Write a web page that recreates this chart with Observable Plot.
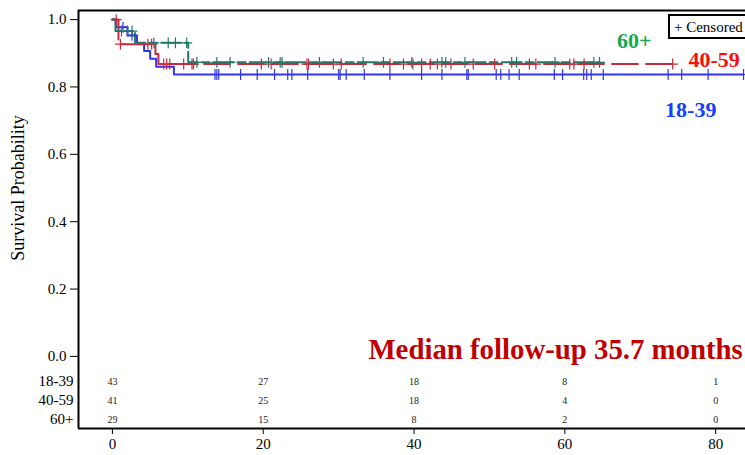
<!DOCTYPE html>
<html><head><meta charset="utf-8">
<script src="https://cdn.jsdelivr.net/npm/d3@7"></script>
<script src="https://cdn.jsdelivr.net/npm/@observablehq/plot@0.6"></script>
<style>
html,body{margin:0;padding:0;background:#fff;}
#chart{position:relative;width:745px;height:455px;overflow:hidden;}
</style></head><body><div id="chart"></div>
<script>
// ---- data ----
const groups = ["18-39", "40-59", "60+"];

// Kaplan–Meier step points (months, survival)
const times18 = [0, 0.5, 2.0, 3.25, 4.2, 5.0, 5.8, 8.15];
const surv18  = [1, 0.977, 0.953, 0.930, 0.907, 0.884, 0.860, 0.837];
const censor18 = [1.4, 2.6, 13.6, 13.85, 14.1, 17.0, 19.2, 21.5, 23.25, 23.8, 25.9, 30.0, 30.2, 31.0,
  33.4, 36.8, 41.0, 43.7, 47.0, 47.2, 50.9, 51.5, 52.6, 53.95, 58.6, 59.7, 62.5, 62.9, 63.5, 65.1,
  73.7, 75.5, 79.0, 83.7];

const times40 = [0, 0.8, 5.7, 6.1];
const surv40  = [1, 0.927, 0.898, 0.868];
const censor40 = [0.5, 1.06, 4.7, 5.2, 6.8, 7.2, 7.6, 9.45, 10.55, 10.75, 19.75, 21.05, 25.8, 26.0,
  29.3, 30.35, 36.8, 38.6, 39.85, 41.0, 42.15, 43.1, 44.9, 47.85, 50.7, 55.3, 56.15, 60.65, 61.2,
  62.55, 74.3];

const times60 = [0, 0.4, 3.0, 10.05];
const surv60  = [1, 0.966, 0.931, 0.873];
const censor60 = [1.2, 2.0, 2.6, 5.5, 7.4, 8.35, 9.85, 11.2, 13.85, 15.6, 20.7, 22.25, 22.5, 27.45,
  33.25, 35.95, 39.7, 43.7, 44.2, 46.75, 52.95, 53.6, 58.7, 63.85, 64.6];

// number at risk
const riskTimes = [0, 20, 40, 60, 80];
const risk18 = [43, 27, 18, 8, 1];
const risk40 = [41, 25, 18, 4, 0];
const risk60 = [29, 15, 8, 2, 0];

const xTicks = [0, 20, 40, 60, 80];
const yTicks = [0, 0.2, 0.4, 0.6, 0.8, 1.0];

// ---- layout / style ----
const xDomain = [-4.5, 83.96];
const yDomain = [-0.214, 1.027];
const FONT = "'Liberation Serif', 'Times New Roman', serif";

const series = [
  {group: groups[0], times: times18, surv: surv18, censor: censor18, risk: risk18, color: "#3535e8", dash: null, row: -0.074},
  {group: groups[1], times: times40, surv: surv40, censor: censor40, risk: risk40, color: "#c92a3e", dash: "26,8", row: -0.131},
  {group: groups[2], times: times60, surv: surv60, censor: censor60, risk: risk60, color: "#24786a", dash: "20,4,8,4", row: -0.187}
];

function stepAt(s, t) {
  let v = s.surv[0];
  for (let i = 0; i < s.times.length; i++) if (s.times[i] <= t) v = s.surv[i];
  return v;
}
function linePts(s) {
  const pts = s.times.map((t, i) => ({t, s: s.surv[i]}));
  const end = Math.max(d3.max(s.censor), s.times[s.times.length - 1]);
  pts.push({t: end, s: s.surv[s.surv.length - 1]});
  return pts;
}
function censorPts(s) { return s.censor.map(t => ({t, s: stepAt(s, t)})); }

const marks = [
  Plot.ruleX([xDomain[0]], {stroke: "#000", strokeWidth: 2}),
  Plot.ruleY([yDomain[0], yDomain[1]], {stroke: "#000", strokeWidth: 2}),
  ...series.map(s => Plot.line(linePts(s), {x: "t", y: "s", curve: "step-after", stroke: s.color, strokeWidth: 2, strokeDasharray: s.dash})),
  ...series.map(s => Plot.dot(censorPts(s), {x: "t", y: "s", symbol: "plus", r: 3.6, stroke: s.color, strokeWidth: 1.2})),
  // risk table
  ...series.map(s => Plot.text(riskTimes.map((t, i) => ({t, n: s.risk[i]})), {x: "t", y: () => s.row, text: d => String(d.n), fontSize: 10, fill: "#222"})),
  Plot.text(series, {x: () => xDomain[0], y: "row", text: "group", textAnchor: "end", dx: -5, fontSize: 15, fill: "#000"}),
  // y label
  Plot.text(["Survival Probability"], {x: () => xDomain[0], y: () => 0.5, rotate: -90, dx: -60, fontSize: 18, fill: "#000"}),
  // group labels
  Plot.text([groups[2]], {x: () => 69.2, y: () => 0.938, fontSize: 22, fontWeight: "bold", fill: "#17a84e"}),
  Plot.text([groups[1]], {x: () => 76.4, y: () => 0.881, textAnchor: "start", fontSize: 22, fontWeight: "bold", fill: "#fb0c0c"}),
  Plot.text([groups[0]], {x: () => 73.3, y: () => 0.733, textAnchor: "start", fontSize: 22, fontWeight: "bold", fill: "#1240ff"}),
  // median
  Plot.text(["Median follow-up 35.7 months"], {x: () => 33.95, y: () => 0.021, textAnchor: "start", fontSize: 28.8, fontWeight: "bold", fill: "#c00000"})
];

const chart = Plot.plot({
  width: 745, height: 455,
  marginLeft: 78, marginRight: 0, marginTop: 10, marginBottom: 27,
  style: {fontFamily: FONT, fontSize: "15px", background: "#fff", color: "#000", overflow: "visible"},
  x: {domain: xDomain, ticks: xTicks, tickSize: 6, tickPadding: 4, label: null, tickFormat: d3.format("d")},
  y: {domain: yDomain, ticks: yTicks, tickSize: 8, tickPadding: 4, label: null, tickFormat: d3.format(".1f")},
  marks
});
document.getElementById("chart").appendChild(chart);

// legend box
const svg = d3.select(chart);
const lg = svg.append("g");
lg.append("rect").attr("x", 669).attr("y", 15).attr("width", 90).attr("height", 23)
  .attr("fill", "#fff").attr("stroke", "#000").attr("stroke-width", 2);
lg.append("text").attr("x", 674).attr("y", 31.5).attr("text-anchor", "start").text("+ Censored")
  .style("font-family", FONT).style("font-size", "15px").attr("fill", "#000");
</script></body></html>
